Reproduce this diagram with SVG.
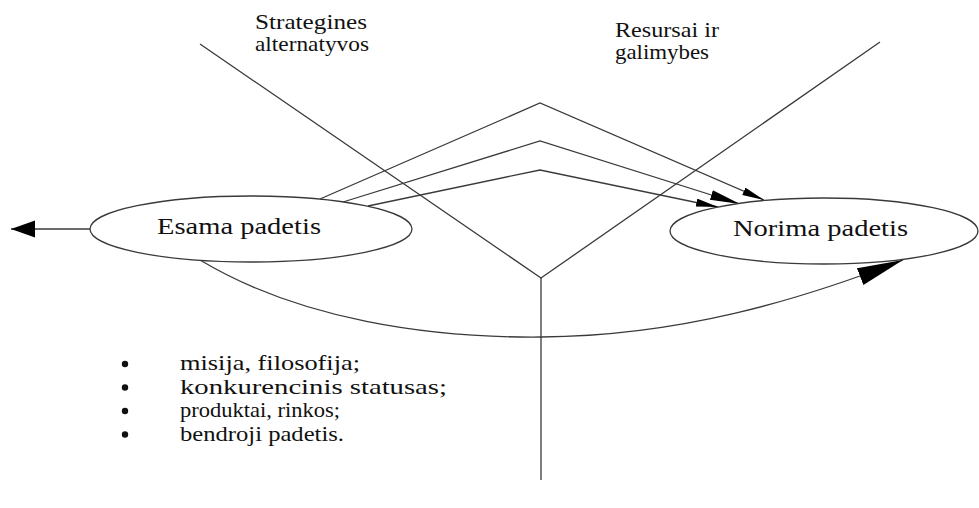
<svg xmlns="http://www.w3.org/2000/svg" width="979" height="508" viewBox="0 0 979 508">
  <style>
    .ln { fill: none; stroke: #3a3a3a; stroke-width: 1.3; }
    .node { fill: #ffffff; stroke: #3a3a3a; stroke-width: 1.3; }
    .lbl { fill: #111111; }
    .dot { fill: #111111; }
  </style>
  <defs>
    <marker id="headSmall" markerUnits="userSpaceOnUse" markerWidth="24" markerHeight="10" refX="22" refY="4" orient="auto">
      <polygon points="0,0 22,4 0,8" fill="#000"/>
    </marker>
    <marker id="headMid" markerUnits="userSpaceOnUse" markerWidth="32" markerHeight="12" refX="30" refY="5" orient="auto">
      <polygon points="0,0 30,5 0,10" fill="#000"/>
    </marker>
    <marker id="headBig" markerUnits="userSpaceOnUse" markerWidth="48" markerHeight="20" refX="46" refY="9" orient="auto">
      <polygon points="0,0 46,9 0,18" fill="#000"/>
    </marker>
    <marker id="headLeft" markerUnits="userSpaceOnUse" markerWidth="26" markerHeight="18" refX="24" refY="8.5" orient="auto">
      <polygon points="0,0 24,8.5 0,17" fill="#000"/>
    </marker>
  </defs>

  <!-- connectors -->
  <g id="connectors">
    <!-- crossing axes -->
    <polyline class="ln" points="200,44 541,278 880,42"/>
    <line class="ln" x1="541" y1="278" x2="541" y2="480"/>
    <!-- three alternative paths -->
    <polyline class="ln" points="320,199 540,103 764,200" marker-end="url(#headSmall)"/>
    <polyline class="ln" points="343,202 540,141 740,204" marker-end="url(#headMid)"/>
    <polyline class="ln" points="368,206 540,170 718,207" marker-end="url(#headSmall)"/>
    <!-- lower arc -->
    <path class="ln" d="M200,260 C300,320 430,338 541,337 C680,336 800,300 903,260" marker-end="url(#headBig)"/>
    <!-- outgoing arrow on the left -->
    <line class="ln" x1="90" y1="229" x2="11" y2="229" marker-end="url(#headLeft)"/>
  </g>

  <g id="esama">
    <ellipse class="node" cx="251" cy="229" rx="161" ry="33"/>
    <text class="lbl" font-family="Liberation Serif" font-size="23" x="157" y="234" textLength="164" lengthAdjust="spacingAndGlyphs">Esama padetis</text>
  </g>

  <g id="norima">
    <ellipse class="node" cx="824" cy="231" rx="154" ry="33"/>
    <text class="lbl" font-family="Liberation Serif" font-size="23" x="733" y="236" textLength="175" lengthAdjust="spacingAndGlyphs">Norima padetis</text>
  </g>

  <g id="strategines">
    <text class="lbl" font-family="Liberation Serif" font-size="21" x="255" y="29" textLength="112" lengthAdjust="spacingAndGlyphs">Strategines</text>
    <text class="lbl" font-family="Liberation Serif" font-size="21" x="255" y="51" textLength="114" lengthAdjust="spacingAndGlyphs">alternatyvos</text>
  </g>

  <g id="resursai">
    <text class="lbl" font-family="Liberation Serif" font-size="21" x="615" y="37" textLength="104" lengthAdjust="spacingAndGlyphs">Resursai ir</text>
    <text class="lbl" font-family="Liberation Serif" font-size="21" x="615" y="59" textLength="94" lengthAdjust="spacingAndGlyphs">galimybes</text>
  </g>

  <g id="bullets">
    <circle class="dot" cx="125" cy="364" r="3.2"/>
    <circle class="dot" cx="125" cy="387.5" r="3.2"/>
    <circle class="dot" cx="125" cy="411" r="3.2"/>
    <circle class="dot" cx="125" cy="434.5" r="3.2"/>
    <text class="lbl" font-family="Liberation Serif" font-size="21" x="180" y="370" textLength="180" lengthAdjust="spacingAndGlyphs">misija, filosofija;</text>
    <text class="lbl" font-family="Liberation Serif" font-size="21" x="180" y="393.5" textLength="267" lengthAdjust="spacingAndGlyphs">konkurencinis statusas;</text>
    <text class="lbl" font-family="Liberation Serif" font-size="21" x="180" y="417" textLength="160" lengthAdjust="spacingAndGlyphs">produktai, rinkos;</text>
    <text class="lbl" font-family="Liberation Serif" font-size="21" x="180" y="440.5" textLength="164" lengthAdjust="spacingAndGlyphs">bendroji padetis.</text>
  </g>
</svg>
